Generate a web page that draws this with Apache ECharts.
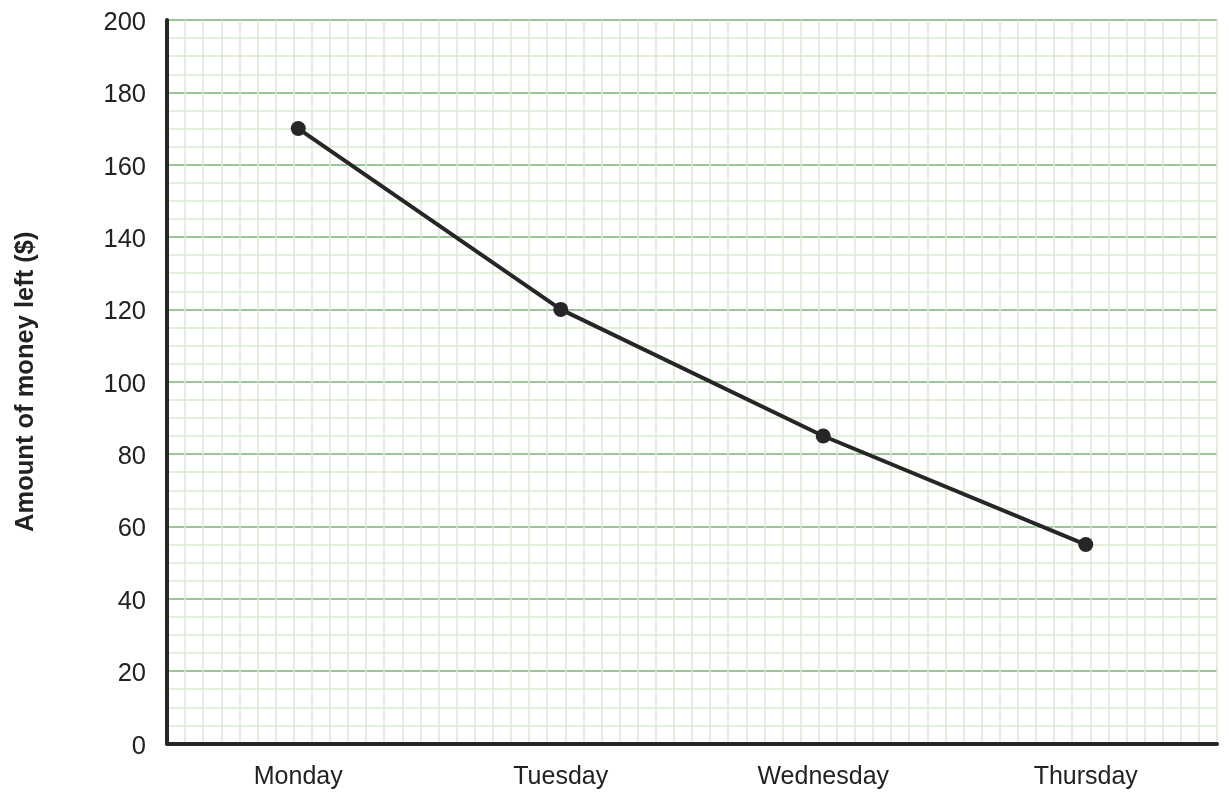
<!DOCTYPE html>
<html>
<head>
<meta charset="utf-8">
<script src="https://cdn.jsdelivr.net/npm/echarts@6/dist/echarts.min.js"></script>
<style>html,body{margin:0;padding:0;background:#fff}#c{width:1229px;height:799px}</style>
</head>
<body>
<div id="c"></div>
<script>
const days = ['Monday', 'Tuesday', 'Wednesday', 'Thursday'];
const moneyLeft = [170, 120, 85, 55];
const yTicks = { min: 0, max: 200, interval: 20 };
const yName = 'Amount of money left ($)';

const chart = echarts.init(document.getElementById('c'), null, { renderer: 'canvas' });
const font = '"Liberation Sans", Arial, sans-serif';
chart.setOption({
  animation: false,
  grid: { left: 167, right: 12, top: 20, bottom: 55.5, containLabel: false, outerBoundsMode: 'none' },
  xAxis: [
    {
      type: 'category', data: days, boundaryGap: true, position: 'bottom',
      axisLine: { show: true, lineStyle: { color: '#262626', width: 4 } },
      axisTick: { show: false },
      axisLabel: { color: '#222', fontSize: 25, fontFamily: font, margin: 21 },
      splitLine: { show: false }, z: 5
    },
    {
      type: 'value', min: 0, max: 58, interval: 1, position: 'bottom',
      axisLine: { show: false }, axisTick: { show: false }, axisLabel: { show: false },
      splitLine: { show: true, lineStyle: { color: '#d9ead0', width: 1.5 } }
    }
  ],
  yAxis: {
    type: 'value', min: yTicks.min, max: yTicks.max, interval: yTicks.interval,
    name: yName, nameLocation: 'middle', nameGap: 128,
    nameTextStyle: { color: '#222', fontSize: 25.5, fontWeight: 'bold', fontFamily: font },
    axisLine: { show: true, lineStyle: { color: '#262626', width: 4 } },
    axisTick: { show: false },
    axisLabel: { color: '#222', fontSize: 25.5, fontFamily: font, margin: 21, verticalAlign: 'top', lineHeight: 6 },
    splitLine: { show: true, lineStyle: { color: '#9fc49c', width: 2 } },
    minorTick: { show: false, splitNumber: 4 },
    minorSplitLine: { show: true, lineStyle: { color: '#d9ead0', width: 1.5 } }
  },
  series: [{
    type: 'line', data: moneyLeft, xAxisIndex: 0,
    symbol: 'circle', symbolSize: 15,
    lineStyle: { color: '#262626', width: 4 },
    itemStyle: { color: '#262626' }, z: 10
  }]
});
</script>
</body>
</html>
